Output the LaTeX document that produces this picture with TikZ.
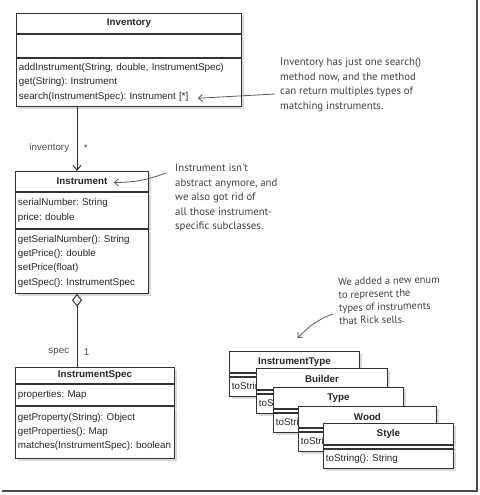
\documentclass[tikz,border=0pt]{standalone}
\usepackage{fontspec}
\setmainfont{Liberation Sans}
\newfontfamily\handfont{PT Sans}
\usetikzlibrary{positioning, shadows, arrows.meta}
\frenchspacing

\begin{document}
\begin{tikzpicture}[x=1pt, y=1pt,
		boxStyle/.style={draw=black!80, line width=0.9pt, fill=white, text=black!85,
			drop shadow={shadow xshift=2.5pt, shadow yshift=-3pt, opacity=0.3}},
		umlTitle/.style={boxStyle, anchor=north west, inner sep=0pt, font=\fontsize{9.8}{12}\selectfont\bfseries},
		umlPart/.style={boxStyle, align=left, inner xsep=2.5pt, inner ysep=2pt, font=\fontsize{9.8}{14.4}\selectfont},
		umlGap/.style={boxStyle, inner sep=0pt, minimum height=3pt},
		assocStyle/.style={draw=black!80, line width=1pt},
		assocText/.style={text=black!70, font=\fontsize{9.8}{12}\selectfont},
		note/.style={align=left, inner sep=0pt, text=black!75, font=\handfont\fontsize{10.8}{14.5}\selectfont},
		noteArrow/.style={draw=black!65, line width=0.8pt, -{Straight Barb[length=4pt, width=7pt]}},]
	
	\useasboundingbox (0,0) rectangle (479,-495);
	
	% Inventory
	\node[umlTitle, minimum width=225pt, minimum height=20pt] (inv) at (16,-13) {Inventory};
	\node[umlPart, text width=220pt, minimum height=23pt, below=0pt of inv] (inv-a) {};
	\node[umlPart, text width=220pt, minimum height=48pt, below=0pt of inv-a] (inv-m) {addInstrument(String, double, InstrumentSpec)\\get(String): Instrument\\search(InstrumentSpec): Instrument [*]};
	
	% Instrument
	\node[umlTitle, minimum width=133pt, minimum height=20pt] (inst) at (15,-171) {Instrument};
	\node[umlPart, text width=128pt, minimum height=36pt, below=0pt of inst] (inst-a) {serialNumber: String\\price: double};
	\node[umlPart, text width=128pt, minimum height=64pt, below=0pt of inst-a] (inst-m) {getSerialNumber(): String\\getPrice(): double\\setPrice(float)\\getSpec(): InstrumentSpec};
	
	% InstrumentSpec
	\node[umlTitle, minimum width=159pt, minimum height=16pt] (spec) at (15,-367) {InstrumentSpec};
	\node[umlPart, text width=154pt, minimum height=21pt, below=0pt of spec] (spec-a) {properties: Map};
	\node[umlPart, text width=154pt, minimum height=52pt, below=0pt of spec-a, font=\fontsize{9.8}{14}\selectfont] (spec-m) {getProperty(String): Object\\getProperties(): Map\\matches(InstrumentSpec):~boolean};
	
	% enums
	\foreach \enumName/\ex/\ey/\ew in {InstrumentType/229/351/130, Builder/256/368/131, Type/273/387/130, Wood/298/406/138, Style/323/423/130}
	{
		\pgfmathsetmacro{\tw}{\ew-5}
		\node[umlTitle, minimum width=\ew pt, minimum height=21pt] (\enumName) at (\ex,-\ey) {\enumName};
		\node[umlGap, minimum width=\ew pt, below=0pt of \enumName] (\enumName-g) {};
		\node[umlPart, text width=\tw pt, minimum height=19pt, below=0pt of \enumName-g] (\enumName-m) {toString(): String};
	}
	
	\draw[assocStyle, -{Straight Barb[length=5pt, width=8pt]}] ([xshift=61pt]inv-m.south west) -- ([xshift=62pt]inst.north west)
		node[assocText, pos=0.64, left=4pt] {inventory}
		node[assocText, pos=0.64, right=3pt] {*};
	\draw[assocStyle, {Diamond[length=13pt, width=10pt, fill=white]}-] ([xshift=62pt]inst-m.south west) -- ([xshift=62pt]spec.north west)
		node[assocText, pos=0.8, left=4pt] {spec}
		node[assocText, pos=0.8, right=3pt] {1};
	
	% notes
	\node[note, anchor=north west] (noteSearch) at (280,-58) {Inventory has just one search()\\method now, and the method\\can return multiples types of\\matching instruments.};
	\node[note, anchor=north west] (noteAbstract) at (175,-164) {Instrument isn't\\abstract anymore, and\\we also got rid of\\all those instrument-\\specific subclasses.};
	\node[note, anchor=north west, rotate=1.5, font=\handfont\fontsize{10.5}{13}\selectfont] (noteEnum) at (338,-278) {We added a new enum\\to represent the\\types of instruments\\that Rick sells.};
	
	\draw[noteArrow] ([shift={(-5pt,-36pt)}]noteSearch.north west) -- ([shift={(-44pt,-16pt)}]inv-m.east);
	\draw[noteArrow] ([shift={(-9pt,-9pt)}]noteAbstract.north west) to[out=200, in=0] ([shift={(-35pt,-1pt)}]inst.east);
	\draw[noteArrow] ([shift={(-6pt,11pt)}]noteEnum.south west) to[out=200, in=45] ([shift={(3pt,13pt)}]InstrumentType.north);
	
	% page edge
	\draw[black!70, line width=1.5pt] (2,-491) -- (477,-491) -- (477,0);
\end{tikzpicture}
\end{document}
